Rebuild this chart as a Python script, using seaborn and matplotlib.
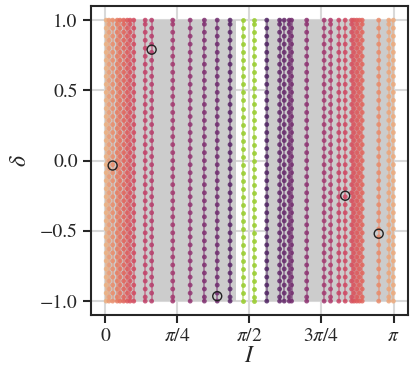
import numpy as np
import pandas as pd
import seaborn as sns
import matplotlib.pyplot as plt

# inclination of each vertical track (rad) and its colour level on the flare map
I_LINES = [0.01, 0.04, 0.08, 0.13, 0.16, 0.20, 0.24, 0.27, 0.31, 0.435, 0.505,
           0.735, 0.925, 1.08, 1.22, 1.36, 1.76, 1.90, 1.95, 2.005, 2.03, 2.195,
           2.385, 2.455, 2.545, 2.615, 2.685, 2.71, 2.74, 2.77, 2.80, 2.98, 3.09, 3.14]
SHADE = [0.0, 0.08, 0.14, 0.20, 0.25, 0.30, 0.34, 0.38, 0.42, 0.50, 0.55,
         0.63, 0.71, 0.78, 0.84, 0.93, 0.97, 0.90, 0.88, 0.85, 0.83, 0.72,
         0.63, 0.58, 0.48, 0.44, 0.40, 0.37, 0.35, 0.33, 0.30, 0.15, 0.05, 0.02]
# which sampling grid each track uses (0 = DELTA_A, 1 = DELTA_B)
GRID = [0, 1, 0, 1, 0, 1, 0, 1, 0, 1, 0, 1, 0, 1, 0, 1, 0, 1, 0, 1, 0, 1,
        0, 1, 0, 0, 1, 0, 1, 0, 1, 0, 1, 0]
I_GREEN = [1.50, 1.62]

# sampled delta values along the tracks
DELTA_A = [-1.000, -0.943, -0.886, -0.829, -0.771, -0.714, -0.657, -0.600, -0.543,
           -0.486, -0.429, -0.371, -0.314, -0.257, -0.200, -0.143, -0.086, -0.029,
           0.029, 0.086, 0.143, 0.200, 0.257, 0.314, 0.371, 0.429, 0.486, 0.543,
           0.600, 0.657, 0.714, 0.771, 0.829, 0.886, 0.943, 1.000]
DELTA_B = [-1.000, -0.971, -0.914, -0.857, -0.800, -0.743, -0.686, -0.629, -0.571,
           -0.514, -0.457, -0.400, -0.343, -0.286, -0.229, -0.171, -0.114, -0.057,
           0.000, 0.057, 0.114, 0.171, 0.229, 0.286, 0.343, 0.400, 0.457, 0.514,
           0.571, 0.629, 0.686, 0.743, 0.800, 0.857, 0.914, 0.971, 1.000]

# highlighted points
I_MARK = [0.505, 0.08, 1.22, 2.615, 2.98]
D_MARK = [0.79, -0.035, -0.965, -0.25, -0.52]

# shaded region (I ranges), delta from -1 to 1
GRAY_SPANS = [(0.0, 1.42), (1.74, np.pi)]

sns.set_theme(style='ticks', rc={
    'axes.grid': True, 'grid.color': '#d9d9d9', 'grid.linewidth': 1.5,
    'axes.edgecolor': '#262626', 'axes.linewidth': 1.5,
    'xtick.major.size': 6, 'ytick.major.size': 6,
    'xtick.major.width': 1.5, 'ytick.major.width': 1.5,
    'xtick.color': '#262626', 'ytick.color': '#262626',
})
plt.rcParams['font.family'] = ['STIXGeneral', 'DejaVu Serif']
plt.rcParams['mathtext.fontset'] = 'stix'

grids = [DELTA_A, DELTA_B]
rows = [(i, d, s) for i, s, g in zip(I_LINES, SHADE, GRID) for d in grids[g]]
tracks = pd.DataFrame(rows, columns=['I', 'delta', 'shade'])
green = pd.DataFrame([(i, d) for i, g in zip(I_GREEN, [0, 1]) for d in grids[g]],
                     columns=['I', 'delta'])
marks = pd.DataFrame({'I': I_MARK, 'delta': D_MARK})

fig, ax = plt.subplots(figsize=(4.15, 3.82), dpi=100)
fig.subplots_adjust(left=0.219, right=0.983, bottom=0.175, top=0.984)

for lo, hi in GRAY_SPANS:
    ax.fill_between([lo, hi], -1, 1, color='0.8', lw=0, zorder=1)

sns.lineplot(data=tracks, x='I', y='delta', hue='shade', units='I', estimator=None,
             orient='y', palette='flare', hue_norm=(0, 1), legend=False,
             lw=1.3, alpha=0.55, ax=ax)
sns.scatterplot(data=tracks, x='I', y='delta', hue='shade', palette='flare',
                hue_norm=(0, 1), s=12, linewidth=0, alpha=0.85, legend=False,
                zorder=3, ax=ax)
sns.lineplot(data=green, x='I', y='delta', units='I', estimator=None, orient='y',
             color='yellowgreen', lw=1.3, alpha=0.55, ax=ax)
sns.scatterplot(data=green, x='I', y='delta', color='yellowgreen', s=12,
                linewidth=0, alpha=0.9, zorder=3, ax=ax)
sns.scatterplot(data=marks, x='I', y='delta', facecolor='none', edgecolor='#222222',
                s=42, linewidth=1.0, zorder=4, ax=ax)

ax.set_xlim(-0.05 * np.pi, 1.05 * np.pi)
ax.set_ylim(-1.1, 1.1)
ax.set_xticks([0, np.pi / 4, np.pi / 2, 3 * np.pi / 4, np.pi])
ax.set_xticklabels(['0', r'$\pi/4$', r'$\pi/2$', r'$3\pi/4$', r'$\pi$'])
ax.set_yticks([-1.0, -0.5, 0.0, 0.5, 1.0])
ax.tick_params(labelsize=14)
ax.set_xlabel(r'$I$', fontsize=17, labelpad=0)
ax.set_ylabel(r'$\delta$', fontsize=17, labelpad=6)

fig.savefig('out.png', dpi=100)
